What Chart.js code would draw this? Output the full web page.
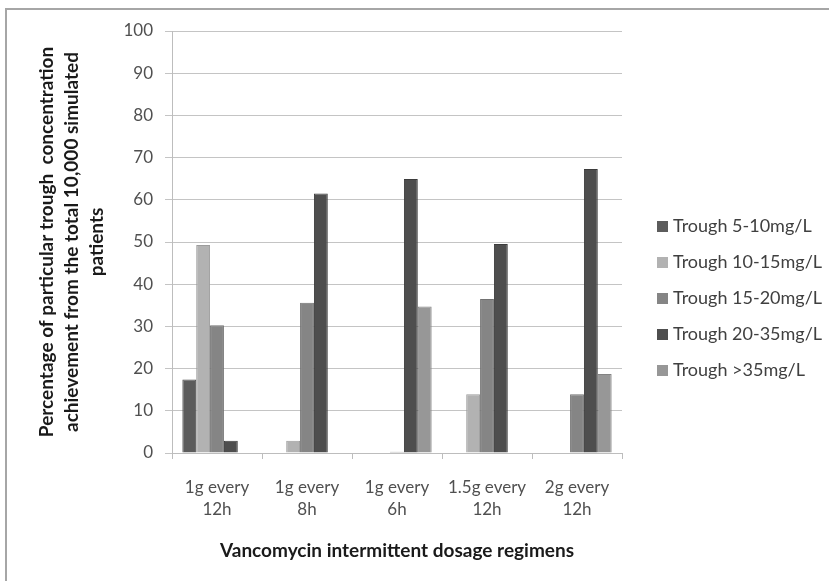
<!DOCTYPE html>
<html>
<head>
<meta charset="utf-8">
<script src="https://cdn.jsdelivr.net/npm/chart.js@4/dist/chart.umd.min.js"></script>
<style>
  html, body { margin: 0; padding: 0; background: #ffffff; }
  #wrap { position: relative; width: 829px; height: 581px; overflow: hidden; }
  #frame { position: absolute; left: 5px; top: 8px; width: 900px; height: 700px;
           border: 2px solid #a6a6a6; box-sizing: border-box; }
  canvas { position: absolute; left: 0; top: 0; }
</style>
</head>
<body>
<div id="wrap">
  <div id="frame"></div>
  <canvas id="chart" width="829" height="581"></canvas>
</div>
<script>
// Dosage regimens (x categories), each split into two label lines
const regimens = [
  ['1g every', '12h'],
  ['1g every', '8h'],
  ['1g every', '6h'],
  ['1.5g every', '12h'],
  ['2g every', '12h']
];

// Percentage of the 10,000 simulated patients in each trough band
const trough5to10  = [17.4, 0, 0, 0, 0];
const trough10to15 = [49.3, 2.9, 0, 13.9, 0];
const trough15to20 = [30.3, 35.6, 0.3, 36.5, 13.9];
const trough20to35 = [2.9, 61.5, 64.9, 49.5, 67.3];
const troughOver35 = [0, 0, 34.7, 0, 18.7];

const seriesNames = ['Trough 5-10mg/L', 'Trough 10-15mg/L', 'Trough 15-20mg/L', 'Trough 20-35mg/L', 'Trough >35mg/L'];
const yTicks = [0, 10, 20, 30, 40, 50, 60, 70, 80, 90, 100];

const fills   = ['#5c5c5c', '#b2b2b2', '#858585', '#4e4e4e', '#979797'];
const borders = ['#4a4a4a', '#9c9c9c', '#727272', '#3c3c3c', '#838383'];

const FONT = 'Lato, "Open Sans", sans-serif';
const seriesData = [trough5to10, trough10to15, trough15to20, trough20to35, troughOver35];

// Legend drawn on the right, next to the plot
const sideLegend = {
  id: 'sideLegend',
  afterDraw(chart) {
    const ctx = chart.ctx;
    ctx.save();
    ctx.font = '18px ' + FONT;
    ctx.textBaseline = 'middle';
    ctx.textAlign = 'left';
    chart.data.datasets.forEach((ds, i) => {
      const y = 226 + i * 36;
      ctx.fillStyle = ds.backgroundColor;
      ctx.fillRect(657, y - 5, 11, 11);
      ctx.fillStyle = '#404040';
      ctx.fillText(ds.label, 673, y);
    });
    ctx.restore();
  }
};

new Chart(document.getElementById('chart'), {
  type: 'bar',
  data: {
    labels: regimens,
    datasets: seriesData.map((vals, i) => ({
      label: seriesNames[i],
      data: vals,
      backgroundColor: fills[i],
      borderColor: borders[i],
      borderWidth: 1,
      categoryPercentage: 0.77,
      barPercentage: 1.0
    }))
  },
  options: {
    responsive: false,
    animation: false,
    layout: { padding: { left: 0, top: 31, right: 207, bottom: 0 } },
    plugins: {
      legend: { display: false },
      tooltip: { enabled: false }
    },
    scales: {
      x: {
        afterFit(scale) { scale.height = 128; },
        grid: { display: true, drawOnChartArea: false, drawTicks: true, tickLength: 6, color: '#bdbdbd', offset: true },
        border: { color: '#bdbdbd', width: 1 },
        ticks: {
          color: '#505050',
          font: { family: FONT, size: 17, lineHeight: 1.3 },
          padding: 17,
          maxRotation: 0,
          autoSkip: false
        },
        title: {
          display: true,
          text: 'Vancomycin intermittent dosage regimens',
          color: '#1a1a1a',
          font: { family: FONT, size: 19, weight: 'bold', lineHeight: 1.2 },
          padding: { top: 0, bottom: 19 }
        }
      },
      y: {
        min: 0,
        max: 100,
        afterFit(scale) { scale.width = 172; },
        afterBuildTicks(scale) { scale.ticks = yTicks.map(v => ({ value: v })); },
        grid: { color: '#c4c4c4', lineWidth: 1, drawTicks: true, tickLength: 7 },
        border: { color: '#bdbdbd', width: 1 },
        ticks: {
          color: '#505050',
          font: { family: FONT, size: 17 },
          padding: 12
        },
        title: {
          display: true,
          text: ['Percentage of particular trough  concentration',
                 'achievement from the total 10,000 simulated',
                 'patients'],
          color: '#1a1a1a',
          font: { family: FONT, size: 19, weight: 'bold', lineHeight: 1.316 },
          padding: { top: 34, bottom: 0 }
        }
      }
    }
  },
  plugins: [sideLegend]
});
</script>
</body>
</html>
